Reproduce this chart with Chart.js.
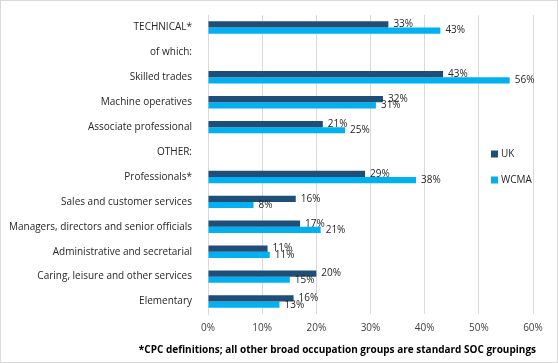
<!DOCTYPE html>
<html>
<head>
<meta charset="utf-8">
<script src="https://cdn.jsdelivr.net/npm/chart.js@4"></script>
<style>
  html, body { margin: 0; padding: 0; background: #fff; }
  #wrap { width: 558px; height: 363px; box-sizing: border-box; border: 1px solid #d9d9d9; }
  #chart { display: block; }
</style>
</head>
<body>
<div id="wrap"><canvas id="chart" width="556" height="361"></canvas></div>
<script>
const categories = [
  "TECHNICAL*", "of which:", "Skilled trades", "Machine operatives",
  "Associate professional", "OTHER:", "Professionals*",
  "Sales and customer services", "Managers, directors and senior officials",
  "Administrative and secretarial", "Caring, leisure and other services", "Elementary"
];
const ukValues = [33.3, null, 43.4, 32.3, 21.2, null, 29.0, 16.2, 17.0, 11.0, 20.0, 15.8];
const wcmaValues = [42.9, null, 55.7, 31.0, 25.3, null, 38.4, 8.4, 20.8, 11.4, 15.1, 13.2];
const xTicks = [0, 10, 20, 30, 40, 50, 60];
const footnote = "*CPC definitions; all other broad occupation groups are standard SOC groupings";

const FONT = "'Open Sans', 'Noto Sans', sans-serif";
const UK_COLOR = "#1f4e79";
const WCMA_COLOR = "#00b0f0";

const valueLabels = {
  id: "valueLabels",
  afterDatasetsDraw(chart) {
    const ctx = chart.ctx;
    ctx.save();
    ctx.font = "10px " + FONT;
    ctx.fillStyle = "#262626";
    ctx.textAlign = "left";
    ctx.textBaseline = "middle";
    chart.data.datasets.forEach((ds, i) => {
      chart.getDatasetMeta(i).data.forEach((bar, j) => {
        const v = ds.data[j];
        if (v == null) return;
        ctx.fillText(Math.round(v) + "%", bar.x + 5, bar.y);
      });
    });
    ctx.restore();
  }
};

const sideLegend = {
  id: "sideLegend",
  afterDraw(chart) {
    const ctx = chart.ctx;
    const area = chart.chartArea;
    ctx.save();
    ctx.font = "10px " + FONT;
    ctx.textBaseline = "middle";
    ctx.textAlign = "left";
    chart.data.datasets.forEach((ds, i) => {
      const x = area.right - 42;
      const y = area.top + 139 + i * 26;
      ctx.fillStyle = ds.backgroundColor;
      ctx.fillRect(x, y - 3.5, 7, 7);
      ctx.fillStyle = "#262626";
      ctx.fillText(ds.label, x + 10, y);
    });
    ctx.restore();
  }
};

const footnoteText = {
  id: "footnoteText",
  afterDraw(chart) {
    const ctx = chart.ctx;
    ctx.save();
    ctx.font = "bold 10px " + FONT;
    ctx.fillStyle = "#000";
    ctx.textAlign = "right";
    ctx.textBaseline = "middle";
    ctx.fillText(footnote, chart.width - 21, chart.height - 12);
    ctx.restore();
  }
};

new Chart(document.getElementById("chart"), {
  type: "bar",
  data: {
    labels: categories,
    datasets: [
      { label: "UK", data: ukValues, backgroundColor: UK_COLOR },
      { label: "WCMA", data: wcmaValues, backgroundColor: WCMA_COLOR }
    ]
  },
  options: {
    indexAxis: "y",
    responsive: false,
    animation: false,
    categoryPercentage: 0.5,
    barPercentage: 1.0,
    layout: { padding: { top: 13, right: 24, bottom: 20, left: 0 } },
    plugins: {
      legend: { display: false },
      tooltip: { enabled: false }
    },
    scales: {
      x: {
        min: 0,
        max: 60,
        afterBuildTicks(scale) {
          scale.ticks = xTicks.map(v => ({ value: v }));
        },
        grid: { color: "#d9d9d9", drawTicks: false },
        border: { display: false },
        ticks: {
          padding: 8,
          color: "#404040",
          font: { family: FONT, size: 10 },
          callback: v => v + "%"
        }
      },
      y: {
        afterFit(scale) { scale.width = 207; },
        grid: { display: false },
        border: { display: true, color: "#d9d9d9" },
        ticks: {
          padding: 8,
          autoSkip: false,
          color: "#262626",
          font: { family: FONT, size: 10 }
        }
      }
    }
  },
  plugins: [valueLabels, sideLegend, footnoteText]
});
</script>
</body>
</html>
